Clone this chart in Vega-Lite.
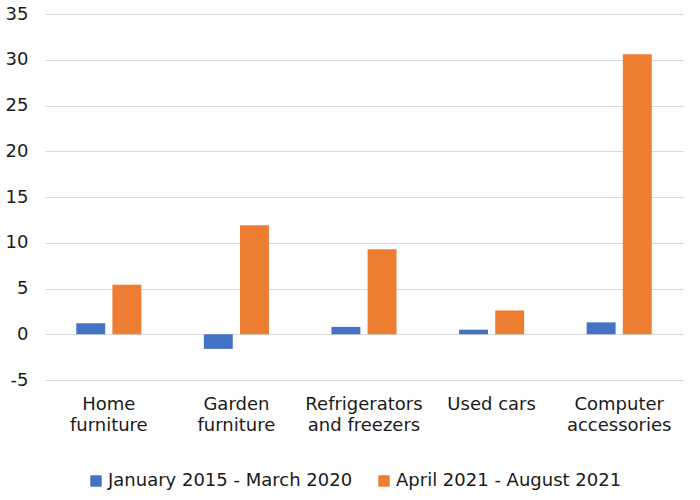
{
  "$schema": "https://vega.github.io/schema/vega-lite/v6.json",
  "width": 638,
  "height": 366,
  "autosize": {"type": "none"},
  "padding": {"left": 45, "top": 14, "right": 17, "bottom": 120},
  "background": "white",
  "config": {
    "view": {"stroke": null},
    "font": "DejaVu Sans",
    "axis": {"labelFont": "DejaVu Sans", "labelFontSize": 18, "labelColor": "#1a1a1a"},
    "legend": {"labelFont": "DejaVu Sans", "labelFontSize": 18, "labelColor": "#1a1a1a"}
  },
  "data": {
    "values": [
      {"category": "Home furniture", "period": "January 2015 - March 2020", "value": 1.2},
      {"category": "Home furniture", "period": "April 2021 - August 2021", "value": 5.4},
      {"category": "Garden furniture", "period": "January 2015 - March 2020", "value": -1.6},
      {"category": "Garden furniture", "period": "April 2021 - August 2021", "value": 11.9},
      {"category": "Refrigerators and freezers", "period": "January 2015 - March 2020", "value": 0.8},
      {"category": "Refrigerators and freezers", "period": "April 2021 - August 2021", "value": 9.3},
      {"category": "Used cars", "period": "January 2015 - March 2020", "value": 0.5},
      {"category": "Used cars", "period": "April 2021 - August 2021", "value": 2.6},
      {"category": "Computer accessories", "period": "January 2015 - March 2020", "value": 1.3},
      {"category": "Computer accessories", "period": "April 2021 - August 2021", "value": 30.6}
    ]
  },
  "mark": {"type": "bar"},
  "encoding": {
    "x": {
      "field": "category",
      "type": "nominal",
      "sort": null,
      "scale": {"paddingInner": 0.49, "paddingOuter": 0.245},
      "axis": {
        "title": null,
        "labelAngle": 0,
        "domain": false,
        "ticks": false,
        "labelPadding": 15,
        "labelLineHeight": 21,
        "labelLimit": 0,
        "labelExpr": "datum.value == 'Refrigerators and freezers' ? ['Refrigerators', 'and freezers'] : datum.value == 'Used cars' ? 'Used cars' : split(datum.value, ' ')"
      }
    },
    "xOffset": {
      "field": "period",
      "type": "nominal",
      "sort": ["January 2015 - March 2020", "April 2021 - August 2021"],
      "scale": {"paddingInner": 0.2, "paddingOuter": 0}
    },
    "y": {
      "field": "value",
      "type": "quantitative",
      "scale": {"domain": [-5, 35], "nice": false},
      "axis": {
        "title": null,
        "values": [-5, 0, 5, 10, 15, 20, 25, 30, 35],
        "labelExpr": "replace(datum.label, '\u2212', '-')",
        "domain": false,
        "ticks": false,
        "labelPadding": 17,
        "gridColor": "#d9d9d9",
        "gridWidth": 1
      }
    },
    "color": {
      "field": "period",
      "type": "nominal",
      "sort": ["January 2015 - March 2020", "April 2021 - August 2021"],
      "scale": {"domain": ["January 2015 - March 2020", "April 2021 - August 2021"], "range": ["#4472c4", "#ed7d31"]},
      "legend": {
        "title": null,
        "orient": "none",
        "legendX": 42,
        "legendY": 458,
        "direction": "horizontal",
        "symbolType": "square",
        "symbolSize": 130,
        "symbolStrokeWidth": 0,
        "labelOffset": 3,
        "labelLimit": 0,
        "columnPadding": 22
      }
    }
  }
}
